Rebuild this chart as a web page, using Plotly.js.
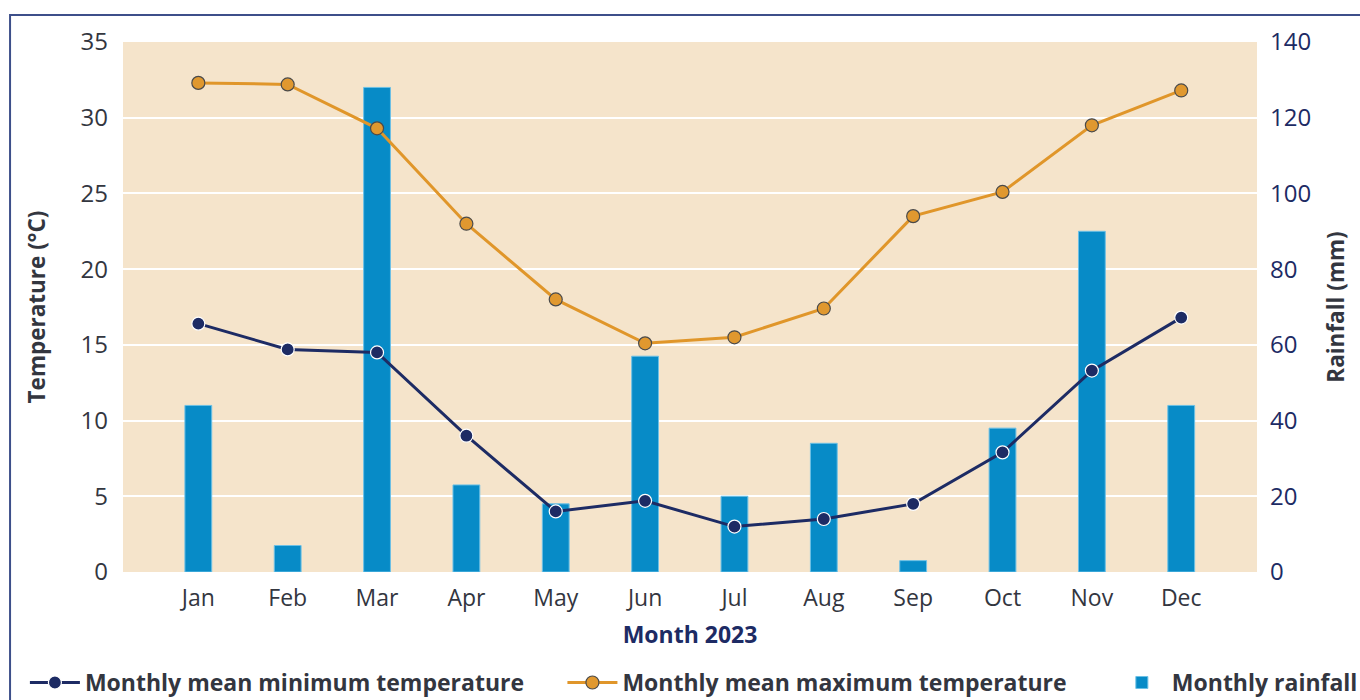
<!DOCTYPE html>
<html>
<head>
<meta charset="utf-8">
<script src="https://cdn.plot.ly/plotly-3.0.1.min.js"></script>
<style>
  html, body { margin: 0; padding: 0; background: #ffffff; }
  #chart { width: 1360px; height: 700px; }
</style>
</head>
<body>
<div id="chart"></div>
<script>
// ---- Data ----
const months = ["Jan", "Feb", "Mar", "Apr", "May", "Jun", "Jul", "Aug", "Sep", "Oct", "Nov", "Dec"];
const minTemp = [16.4, 14.7, 14.5, 9.0, 4.0, 4.7, 3.0, 3.5, 4.5, 7.9, 13.3, 16.8];
const maxTemp = [32.3, 32.2, 29.3, 23.0, 18.0, 15.1, 15.5, 17.4, 23.5, 25.1, 29.5, 31.8];
const rainfall = [44, 7, 128, 23, 18, 57, 20, 34, 3, 38, 90, 44];

const FONT = "'Open Sans', sans-serif";
const NAVY = "#1d2b64";
const GREY = "#33363f";

const traces = [
  {
    type: "bar",
    name: "Monthly rainfall",
    x: months,
    y: rainfall,
    yaxis: "y",
    width: 0.3,
    marker: { color: "#078bc7", line: { color: "#6cc0e6", width: 1 } },
    legend: "legend3"
  },
  {
    type: "scatter",
    mode: "lines+markers",
    name: "Monthly mean minimum temperature",
    x: months,
    y: minTemp,
    yaxis: "y2",
    line: { color: NAVY, width: 3 },
    marker: { color: NAVY, size: 13, line: { color: "#ffffff", width: 1.2 } },
    legend: "legend"
  },
  {
    type: "scatter",
    mode: "lines+markers",
    name: "Monthly mean maximum temperature",
    x: months,
    y: maxTemp,
    yaxis: "y2",
    line: { color: "#e0962a", width: 3 },
    marker: { color: "#e0982f", size: 13, line: { color: "#4a4a4a", width: 1.2 } },
    legend: "legend2"
  }
];

const legendBase = {
  orientation: "h",
  xanchor: "left",
  y: -0.168,
  yanchor: "top",
  font: { family: FONT, size: 23, color: GREY, weight: "bold" },
  bgcolor: "rgba(0,0,0,0)",
  itemwidth: 50
};

const layout = {
  width: 1360,
  height: 700,
  margin: { l: 123, r: 103, t: 42, b: 128, autoexpand: false },
  paper_bgcolor: "#ffffff",
  plot_bgcolor: "#f5e4cb",
  font: { family: FONT, color: GREY, size: 23 },
  showlegend: true,
  legend: Object.assign({}, legendBase, { x: -0.0865 }),
  legend2: Object.assign({}, legendBase, { x: 0.3875 }),
  legend3: Object.assign({}, legendBase, { x: 0.872 }),
  xaxis: {
    type: "category",
    range: [-0.843, 11.848],
    showgrid: false,
    zeroline: false,
    showline: false,
    ticks: "",
    ticklabelstandoff: 10,
    tickfont: { family: FONT, size: 23, color: GREY },
    title: { text: "Month 2023", font: { family: FONT, size: 23, color: NAVY, weight: "bold" }, standoff: 14 }
  },
  yaxis: {
    side: "right",
    range: [0, 140],
    dtick: 20,
    tick0: 0,
    showgrid: true,
    gridcolor: "#ffffff",
    gridwidth: 2,
    zeroline: false,
    showline: false,
    ticks: "",
    ticklabelstandoff: 12,
    tickfont: { family: FONT, size: 24, color: NAVY },
    title: { text: "Rainfall (mm)", font: { family: FONT, size: 22.5, color: GREY, weight: "bold" }, standoff: 18 }
  },
  yaxis2: {
    overlaying: "y",
    side: "left",
    range: [0, 35],
    dtick: 5,
    tick0: 0,
    showgrid: false,
    zeroline: false,
    showline: false,
    ticks: "",
    ticklabelstandoff: 14,
    tickfont: { family: FONT, size: 24, color: GREY },
    title: { text: "Temperature (°C)", font: { family: FONT, size: 22.5, color: GREY, weight: "bold" }, standoff: 28 }
  },
  shapes: [
    {
      type: "rect",
      xref: "paper", yref: "paper",
      x0: -0.0996, x1: 1.2, y0: -0.4, y1: 1.0509,
      line: { color: "#3d4f8a", width: 2 },
      fillcolor: "rgba(0,0,0,0)",
      layer: "below"
    }
  ]
};

Plotly.newPlot("chart", traces, layout, { displayModeBar: false, staticPlot: true });
</script>
</body>
</html>
